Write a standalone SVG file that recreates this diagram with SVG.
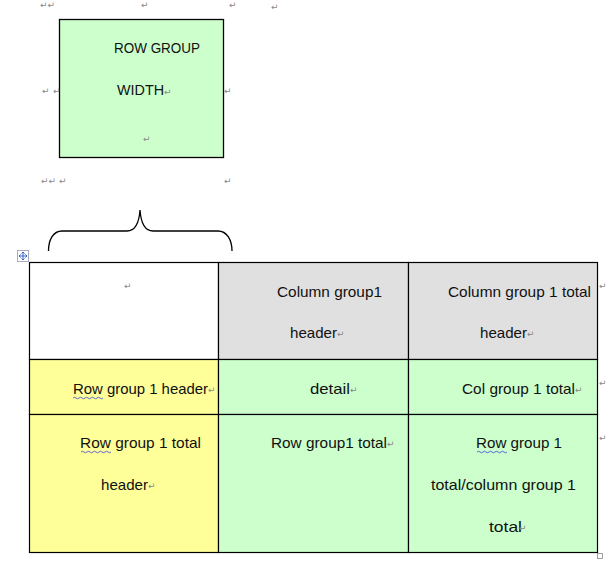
<svg xmlns="http://www.w3.org/2000/svg" width="616" height="563" viewBox="0 0 616 563">
<style>
.t{font-family:"Liberation Sans","DejaVu Sans",sans-serif;font-size:14.5px;fill:#111}
.m{font-family:"DejaVu Sans",sans-serif;font-size:9px;fill:#888}
.c{stroke:#000;stroke-width:1.2}
.w{fill:none;stroke:#3344dd;stroke-width:0.8}
</style>
<rect width="616" height="563" fill="#fff"/>
<g id="row-group-width">
<rect x="59.5" y="19.5" width="164" height="138" fill="#ccffcc" stroke="#000" stroke-width="1.3"/>
<text class="t" x="114" y="53" textLength="86" lengthAdjust="spacingAndGlyphs">ROW GROUP</text>
<text class="t" x="117" y="95" textLength="47" lengthAdjust="spacingAndGlyphs">WIDTH</text>
<text class="m" x="164" y="95">↵</text>
<text class="m" x="143" y="142">↵</text>
</g>
<g id="brace">
<path d="M48.5,251 C48.5,240 53,231 62,231 L127,231 C134,231 139,224 140,210 C141,224 146,231 153,231 L218,231 C227,231 232,240 232,251" fill="none" stroke="#000" stroke-width="1.3"/>
</g>
<g id="table">
<rect id="cell-corner" x="29.5" y="262.5" width="189" height="97" fill="#fff" class="c"/>
<rect id="cell-col-header" x="218.5" y="262.5" width="190" height="97" fill="#e0e0e0" class="c"/>
<rect id="cell-col-total-header" x="408.5" y="262.5" width="189" height="97" fill="#e0e0e0" class="c"/>
<rect id="cell-row-header" x="29.5" y="359.5" width="189" height="55" fill="#ffff99" class="c"/>
<rect id="cell-detail" x="218.5" y="359.5" width="190" height="55" fill="#ccffcc" class="c"/>
<rect id="cell-col-total" x="408.5" y="359.5" width="189" height="55" fill="#ccffcc" class="c"/>
<rect id="cell-row-total-header" x="29.5" y="414.5" width="189" height="138" fill="#ffff99" class="c"/>
<rect id="cell-row-total" x="218.5" y="414.5" width="190" height="138" fill="#ccffcc" class="c"/>
<rect id="cell-grand-total" x="408.5" y="414.5" width="189" height="138" fill="#ccffcc" class="c"/>
<text class="m" x="124" y="289">↵</text>
<text class="t" x="277" y="297" textLength="105" lengthAdjust="spacingAndGlyphs">Column group1</text>
<text class="t" x="290" y="338" textLength="47" lengthAdjust="spacingAndGlyphs">header</text>
<text class="m" x="337" y="337">↵</text>
<text class="t" x="448" y="297" textLength="143" lengthAdjust="spacingAndGlyphs">Column group 1 total</text>
<text class="t" x="480" y="338" textLength="47" lengthAdjust="spacingAndGlyphs">header</text>
<text class="m" x="527" y="337">↵</text>
<text class="t" x="73" y="394" textLength="135" lengthAdjust="spacingAndGlyphs">Row group 1 header</text>
<text class="m" x="208" y="393">↵</text>
<path class="w" d="M73,398 q1.5,-1.5 3,0 t3,0 t3,0 t3,0 t3,0 t3,0 t3,0 t3,0 t3,0 t3,0"/>
<text class="t" x="310" y="394" textLength="40" lengthAdjust="spacingAndGlyphs">detail</text>
<text class="m" x="350" y="393">↵</text>
<text class="t" x="462" y="394" textLength="113" lengthAdjust="spacingAndGlyphs">Col group 1 total</text>
<text class="m" x="575" y="393">↵</text>
<text class="t" x="80" y="448" textLength="121" lengthAdjust="spacingAndGlyphs">Row group 1 total</text>
<path class="w" d="M81,452 q1.5,-1.5 3,0 t3,0 t3,0 t3,0 t3,0 t3,0 t3,0 t3,0 t3,0 t3,0"/>
<text class="t" x="101" y="490" textLength="47" lengthAdjust="spacingAndGlyphs">header</text>
<text class="m" x="148" y="489">↵</text>
<text class="t" x="271" y="448" textLength="116" lengthAdjust="spacingAndGlyphs">Row group1 total</text>
<text class="m" x="387" y="447">↵</text>
<text class="t" x="476" y="448" textLength="86" lengthAdjust="spacingAndGlyphs">Row group 1</text>
<path class="w" d="M477,452 q1.5,-1.5 3,0 t3,0 t3,0 t3,0 t3,0 t3,0 t3,0 t3,0 t3,0 t3,0"/>
<text class="t" x="431" y="490" textLength="145" lengthAdjust="spacingAndGlyphs">total/column group 1</text>
<text class="t" x="489" y="532" textLength="33" lengthAdjust="spacingAndGlyphs">total</text>
<text class="m" x="519" y="531">↵</text>
</g>
<g id="handle">
<rect x="17.5" y="250.5" width="11" height="11" fill="#fff" stroke="#aab"/>
<path d="M23,252 v8 M19,256 h8 M21.5,253.5 l1.5,-1.5 l1.5,1.5 M21.5,258.5 l1.5,1.5 l1.5,-1.5 M20.5,254.5 l-1.5,1.5 l1.5,1.5 M25.5,254.5 l1.5,1.5 l-1.5,1.5" stroke="#3366cc" stroke-width="1" fill="none"/>
<rect x="597.5" y="553.5" width="5" height="5" fill="#fff" stroke="#888" stroke-width="0.8"/>
</g>
<g id="marks">
<text class="m" x="40" y="8">↵↵</text>
<text class="m" x="141" y="8">↵</text>
<text class="m" x="229" y="8">↵</text>
<text class="m" x="271" y="10">↵</text>
<text class="m" x="42" y="94">↵</text>
<text class="m" x="53" y="94">↵</text>
<text class="m" x="224" y="94">↵</text>
<text class="m" x="41" y="184">↵↵</text>
<text class="m" x="59" y="184">↵</text>
<text class="m" x="224" y="184">↵</text>
<text class="m" x="599" y="289">↵</text>
<text class="m" x="599" y="386">↵</text>
<text class="m" x="599" y="441">↵</text>
</g>
</svg>
